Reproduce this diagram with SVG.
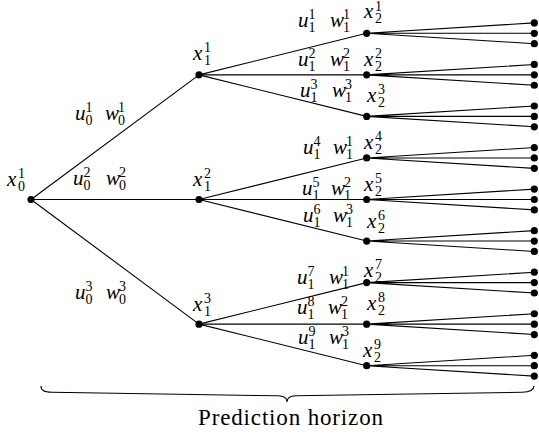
<svg xmlns="http://www.w3.org/2000/svg" width="539" height="437" viewBox="0 0 539 437">
<style>
.e{stroke:#000;stroke-width:1.1;fill:none}
.d{fill:#000}
</style>
<rect width="539" height="437" fill="#fff"/>
<g id="connectors" class="e">
<line x1="31" y1="199.5" x2="199" y2="74.85"/>
<line x1="31" y1="199.5" x2="199" y2="199.5"/>
<line x1="31" y1="199.5" x2="199" y2="324.15"/>
<line x1="199" y1="74.85" x2="366.7" y2="33.3"/>
<line x1="199" y1="74.85" x2="366.7" y2="74.85"/>
<line x1="199" y1="74.85" x2="366.7" y2="116.4"/>
<line x1="199" y1="199.5" x2="366.7" y2="157.95"/>
<line x1="199" y1="199.5" x2="366.7" y2="199.5"/>
<line x1="199" y1="199.5" x2="366.7" y2="241.05"/>
<line x1="199" y1="324.15" x2="366.7" y2="282.6"/>
<line x1="199" y1="324.15" x2="366.7" y2="324.15"/>
<line x1="199" y1="324.15" x2="366.7" y2="365.7"/>
<path d="M366.7 33.3L534.3 22.9M366.7 33.3L534.3 33.3M366.7 33.3L534.3 43.7"/>
<path d="M366.7 74.85L534.3 64.45M366.7 74.85L534.3 74.85M366.7 74.85L534.3 85.25"/>
<path d="M366.7 116.4L534.3 106M366.7 116.4L534.3 116.4M366.7 116.4L534.3 126.8"/>
<path d="M366.7 157.95L534.3 147.55M366.7 157.95L534.3 157.95M366.7 157.95L534.3 168.35"/>
<path d="M366.7 199.5L534.3 189.1M366.7 199.5L534.3 199.5M366.7 199.5L534.3 209.9"/>
<path d="M366.7 241.05L534.3 230.65M366.7 241.05L534.3 241.05M366.7 241.05L534.3 251.45"/>
<path d="M366.7 282.6L534.3 272.2M366.7 282.6L534.3 282.6M366.7 282.6L534.3 293"/>
<path d="M366.7 324.15L534.3 313.75M366.7 324.15L534.3 324.15M366.7 324.15L534.3 334.55"/>
<path d="M366.7 365.7L534.3 355.3M366.7 365.7L534.3 365.7M366.7 365.7L534.3 376.1"/>
</g>
<g id="edge-labels" fill="#000">
<text style="font:italic 21px 'Liberation Serif',serif" x="75" y="120">u<tspan style="font-style:normal;font-size:14px" x="85.5" y="112">1</tspan><tspan style="font-style:normal;font-size:14px" x="85.5" y="125">0</tspan></text>
<text style="font:italic 21px 'Liberation Serif',serif" x="105" y="120">w<tspan style="font-style:normal;font-size:14px" x="118" y="112">1</tspan><tspan style="font-style:normal;font-size:14px" x="118" y="125">0</tspan></text>
<text style="font:italic 21px 'Liberation Serif',serif" x="73" y="185">u<tspan style="font-style:normal;font-size:14px" x="83.5" y="177">2</tspan><tspan style="font-style:normal;font-size:14px" x="83.5" y="190">0</tspan></text>
<text style="font:italic 21px 'Liberation Serif',serif" x="106" y="185">w<tspan style="font-style:normal;font-size:14px" x="119" y="177">2</tspan><tspan style="font-style:normal;font-size:14px" x="119" y="190">0</tspan></text>
<text style="font:italic 21px 'Liberation Serif',serif" x="75" y="299">u<tspan style="font-style:normal;font-size:14px" x="85.5" y="291">3</tspan><tspan style="font-style:normal;font-size:14px" x="85.5" y="304">0</tspan></text>
<text style="font:italic 21px 'Liberation Serif',serif" x="106" y="299">w<tspan style="font-style:normal;font-size:14px" x="119" y="291">3</tspan><tspan style="font-style:normal;font-size:14px" x="119" y="304">0</tspan></text>
<text style="font:italic 21px 'Liberation Serif',serif" x="298" y="27">u<tspan style="font-style:normal;font-size:14px" x="308.5" y="19">1</tspan><tspan style="font-style:normal;font-size:14px" x="308.5" y="32">1</tspan></text>
<text style="font:italic 21px 'Liberation Serif',serif" x="330" y="27">w<tspan style="font-style:normal;font-size:14px" x="343" y="19">1</tspan><tspan style="font-style:normal;font-size:14px" x="343" y="32">1</tspan></text>
<text style="font:italic 21px 'Liberation Serif',serif" x="298" y="66">u<tspan style="font-style:normal;font-size:14px" x="308.5" y="58">2</tspan><tspan style="font-style:normal;font-size:14px" x="308.5" y="71">1</tspan></text>
<text style="font:italic 21px 'Liberation Serif',serif" x="330" y="66">w<tspan style="font-style:normal;font-size:14px" x="343" y="58">2</tspan><tspan style="font-style:normal;font-size:14px" x="343" y="71">1</tspan></text>
<text style="font:italic 21px 'Liberation Serif',serif" x="300" y="97">u<tspan style="font-style:normal;font-size:14px" x="310.5" y="89">3</tspan><tspan style="font-style:normal;font-size:14px" x="310.5" y="102">1</tspan></text>
<text style="font:italic 21px 'Liberation Serif',serif" x="332" y="97">w<tspan style="font-style:normal;font-size:14px" x="345" y="89">3</tspan><tspan style="font-style:normal;font-size:14px" x="345" y="102">1</tspan></text>
<text style="font:italic 21px 'Liberation Serif',serif" x="303" y="154">u<tspan style="font-style:normal;font-size:14px" x="313.5" y="146">4</tspan><tspan style="font-style:normal;font-size:14px" x="313.5" y="159">1</tspan></text>
<text style="font:italic 21px 'Liberation Serif',serif" x="333" y="154">w<tspan style="font-style:normal;font-size:14px" x="346" y="146">1</tspan><tspan style="font-style:normal;font-size:14px" x="346" y="159">1</tspan></text>
<text style="font:italic 21px 'Liberation Serif',serif" x="302" y="195">u<tspan style="font-style:normal;font-size:14px" x="312.5" y="187">5</tspan><tspan style="font-style:normal;font-size:14px" x="312.5" y="200">1</tspan></text>
<text style="font:italic 21px 'Liberation Serif',serif" x="331" y="195">w<tspan style="font-style:normal;font-size:14px" x="344" y="187">2</tspan><tspan style="font-style:normal;font-size:14px" x="344" y="200">1</tspan></text>
<text style="font:italic 21px 'Liberation Serif',serif" x="303" y="222">u<tspan style="font-style:normal;font-size:14px" x="313.5" y="214">6</tspan><tspan style="font-style:normal;font-size:14px" x="313.5" y="227">1</tspan></text>
<text style="font:italic 21px 'Liberation Serif',serif" x="333" y="222">w<tspan style="font-style:normal;font-size:14px" x="346" y="214">3</tspan><tspan style="font-style:normal;font-size:14px" x="346" y="227">1</tspan></text>
<text style="font:italic 21px 'Liberation Serif',serif" x="297" y="284">u<tspan style="font-style:normal;font-size:14px" x="307.5" y="276">7</tspan><tspan style="font-style:normal;font-size:14px" x="307.5" y="289">1</tspan></text>
<text style="font:italic 21px 'Liberation Serif',serif" x="329" y="284">w<tspan style="font-style:normal;font-size:14px" x="342" y="276">1</tspan><tspan style="font-style:normal;font-size:14px" x="342" y="289">1</tspan></text>
<text style="font:italic 21px 'Liberation Serif',serif" x="297" y="314">u<tspan style="font-style:normal;font-size:14px" x="307.5" y="306">8</tspan><tspan style="font-style:normal;font-size:14px" x="307.5" y="319">1</tspan></text>
<text style="font:italic 21px 'Liberation Serif',serif" x="328" y="314">w<tspan style="font-style:normal;font-size:14px" x="341" y="306">2</tspan><tspan style="font-style:normal;font-size:14px" x="341" y="319">1</tspan></text>
<text style="font:italic 21px 'Liberation Serif',serif" x="298" y="344">u<tspan style="font-style:normal;font-size:14px" x="308.5" y="336">9</tspan><tspan style="font-style:normal;font-size:14px" x="308.5" y="349">1</tspan></text>
<text style="font:italic 21px 'Liberation Serif',serif" x="329" y="344">w<tspan style="font-style:normal;font-size:14px" x="342" y="336">3</tspan><tspan style="font-style:normal;font-size:14px" x="342" y="349">1</tspan></text>
</g>
<g id="x0_1" fill="#000"><circle cx="31" cy="199.5" r="3.6"/><text style="font:italic 21px 'Liberation Serif',serif" x="7" y="186">x<tspan style="font-style:normal;font-size:14px" x="18" y="178">1</tspan><tspan style="font-style:normal;font-size:14px" x="18" y="191">0</tspan></text></g>
<g id="x1_1" fill="#000"><circle cx="199" cy="74.85" r="3.6"/><text style="font:italic 21px 'Liberation Serif',serif" x="193" y="60">x<tspan style="font-style:normal;font-size:14px" x="204" y="52">1</tspan><tspan style="font-style:normal;font-size:14px" x="204" y="65">1</tspan></text></g>
<g id="x1_2" fill="#000"><circle cx="199" cy="199.5" r="3.6"/><text style="font:italic 21px 'Liberation Serif',serif" x="193" y="186">x<tspan style="font-style:normal;font-size:14px" x="204" y="178">2</tspan><tspan style="font-style:normal;font-size:14px" x="204" y="191">1</tspan></text></g>
<g id="x1_3" fill="#000"><circle cx="199" cy="324.15" r="3.6"/><text style="font:italic 21px 'Liberation Serif',serif" x="193" y="311">x<tspan style="font-style:normal;font-size:14px" x="204" y="303">3</tspan><tspan style="font-style:normal;font-size:14px" x="204" y="316">1</tspan></text></g>
<g id="x2_1" fill="#000"><circle cx="366.7" cy="33.3" r="3.6"/><text style="font:italic 21px 'Liberation Serif',serif" x="364" y="18">x<tspan style="font-style:normal;font-size:14px" x="375" y="11">1</tspan><tspan style="font-style:normal;font-size:14px" x="375" y="23">2</tspan></text></g>
<g id="x2_2" fill="#000"><circle cx="366.7" cy="74.85" r="3.6"/><text style="font:italic 21px 'Liberation Serif',serif" x="364" y="66">x<tspan style="font-style:normal;font-size:14px" x="375" y="58">2</tspan><tspan style="font-style:normal;font-size:14px" x="375" y="71">2</tspan></text></g>
<g id="x2_3" fill="#000"><circle cx="366.7" cy="116.4" r="3.6"/><text style="font:italic 21px 'Liberation Serif',serif" x="367" y="102">x<tspan style="font-style:normal;font-size:14px" x="378" y="94">3</tspan><tspan style="font-style:normal;font-size:14px" x="378" y="107">2</tspan></text></g>
<g id="x2_4" fill="#000"><circle cx="366.7" cy="157.95" r="3.6"/><text style="font:italic 21px 'Liberation Serif',serif" x="364" y="149">x<tspan style="font-style:normal;font-size:14px" x="375" y="141">4</tspan><tspan style="font-style:normal;font-size:14px" x="375" y="154">2</tspan></text></g>
<g id="x2_5" fill="#000"><circle cx="366.7" cy="199.5" r="3.6"/><text style="font:italic 21px 'Liberation Serif',serif" x="364" y="191">x<tspan style="font-style:normal;font-size:14px" x="375" y="183">5</tspan><tspan style="font-style:normal;font-size:14px" x="375" y="196">2</tspan></text></g>
<g id="x2_6" fill="#000"><circle cx="366.7" cy="241.05" r="3.6"/><text style="font:italic 21px 'Liberation Serif',serif" x="367" y="228">x<tspan style="font-style:normal;font-size:14px" x="378" y="220">6</tspan><tspan style="font-style:normal;font-size:14px" x="378" y="233">2</tspan></text></g>
<g id="x2_7" fill="#000"><circle cx="366.7" cy="282.6" r="3.6"/><text style="font:italic 21px 'Liberation Serif',serif" x="364" y="277">x<tspan style="font-style:normal;font-size:14px" x="375" y="269">7</tspan><tspan style="font-style:normal;font-size:14px" x="375" y="282">2</tspan></text></g>
<g id="x2_8" fill="#000"><circle cx="366.7" cy="324.15" r="3.6"/><text style="font:italic 21px 'Liberation Serif',serif" x="367" y="310">x<tspan style="font-style:normal;font-size:14px" x="378" y="302">8</tspan><tspan style="font-style:normal;font-size:14px" x="378" y="315">2</tspan></text></g>
<g id="x2_9" fill="#000"><circle cx="366.7" cy="365.7" r="3.6"/><text style="font:italic 21px 'Liberation Serif',serif" x="363" y="357">x<tspan style="font-style:normal;font-size:14px" x="374" y="349">9</tspan><tspan style="font-style:normal;font-size:14px" x="374" y="362">2</tspan></text></g>
<g id="leaves" class="d">
<g id="leaf1"><circle cx="534.3" cy="22.9" r="3.6"/></g>
<g id="leaf2"><circle cx="534.3" cy="33.3" r="3.6"/></g>
<g id="leaf3"><circle cx="534.3" cy="43.7" r="3.6"/></g>
<g id="leaf4"><circle cx="534.3" cy="64.45" r="3.6"/></g>
<g id="leaf5"><circle cx="534.3" cy="74.85" r="3.6"/></g>
<g id="leaf6"><circle cx="534.3" cy="85.25" r="3.6"/></g>
<g id="leaf7"><circle cx="534.3" cy="106" r="3.6"/></g>
<g id="leaf8"><circle cx="534.3" cy="116.4" r="3.6"/></g>
<g id="leaf9"><circle cx="534.3" cy="126.8" r="3.6"/></g>
<g id="leaf10"><circle cx="534.3" cy="147.55" r="3.6"/></g>
<g id="leaf11"><circle cx="534.3" cy="157.95" r="3.6"/></g>
<g id="leaf12"><circle cx="534.3" cy="168.35" r="3.6"/></g>
<g id="leaf13"><circle cx="534.3" cy="189.1" r="3.6"/></g>
<g id="leaf14"><circle cx="534.3" cy="199.5" r="3.6"/></g>
<g id="leaf15"><circle cx="534.3" cy="209.9" r="3.6"/></g>
<g id="leaf16"><circle cx="534.3" cy="230.65" r="3.6"/></g>
<g id="leaf17"><circle cx="534.3" cy="241.05" r="3.6"/></g>
<g id="leaf18"><circle cx="534.3" cy="251.45" r="3.6"/></g>
<g id="leaf19"><circle cx="534.3" cy="272.2" r="3.6"/></g>
<g id="leaf20"><circle cx="534.3" cy="282.6" r="3.6"/></g>
<g id="leaf21"><circle cx="534.3" cy="293" r="3.6"/></g>
<g id="leaf22"><circle cx="534.3" cy="313.75" r="3.6"/></g>
<g id="leaf23"><circle cx="534.3" cy="324.15" r="3.6"/></g>
<g id="leaf24"><circle cx="534.3" cy="334.55" r="3.6"/></g>
<g id="leaf25"><circle cx="534.3" cy="355.3" r="3.6"/></g>
<g id="leaf26"><circle cx="534.3" cy="365.7" r="3.6"/></g>
<g id="leaf27"><circle cx="534.3" cy="376.1" r="3.6"/></g>
</g>
<path id="brace" class="e" d="M41 386C41 390.5 44 392 52 392.3L278 395.8C284 396 287 398.5 287 402C287 398.5 290 396 296 395.8L522 392.3C530 392 534 390.5 534 386"/>
<text id="caption" style="font:23px 'Liberation Serif',serif" fill="#000" x="198" y="425" textLength="185" lengthAdjust="spacing">Prediction horizon</text>
</svg>
